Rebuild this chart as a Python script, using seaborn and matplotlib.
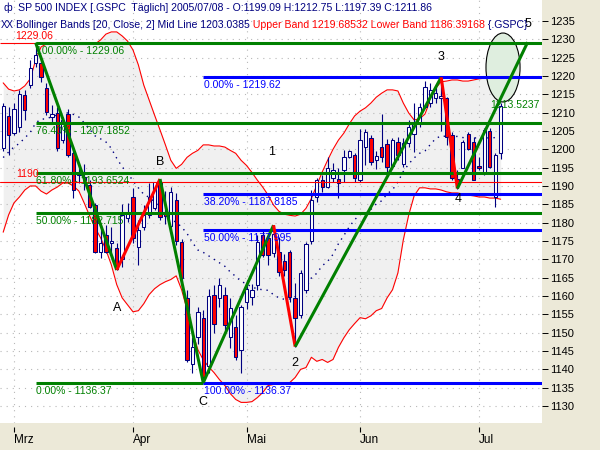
import numpy as np
import matplotlib
matplotlib.use('Agg')
import matplotlib.pyplot as plt
import matplotlib.transforms as mtransforms
from matplotlib.patches import Ellipse
import seaborn as sns

sns.set_style('white')
plt.rcParams['font.family'] = ['Liberation Sans', 'DejaVu Sans']

# ---------------- data ----------------
bar_index = list(range(-2, 91))   # trading-day index, 0 = 1 March 2005
opens = [1200.3, 1209.1, 1204.5, 1206.0, 1214.8, 1217.5, 1223.4, 1223.4, 1216.6, 1208.7,
         1209.8, 1202.5, 1209.5, 1198.9, 1193.0, 1192.5, 1190.3, 1184.8, 1172.0, 1176.6,
         1174.5, 1173.0, 1170.0, 1181.2, 1187.1, 1173.4, 1178.9, 1182.1, 1184.0, 1191.0,
         1183.0, 1179.0, 1186.2, 1174.8, 1159.4, 1141.5, 1148.9, 1153.9, 1141.0, 1160.3,
         1159.4, 1160.3, 1148.9, 1151.6, 1145.3, 1158.5, 1159.8, 1163.0, 1176.6, 1175.7,
         1171.6, 1172.1, 1169.5, 1172.1, 1159.5, 1154.8, 1161.6, 1175.0, 1187.1, 1191.6,
         1189.8, 1192.1, 1191.8, 1194.4, 1198.0, 1198.4, 1191.6, 1200.7, 1203.0, 1197.1,
         1200.5, 1201.4, 1195.4, 1202.1, 1196.1, 1201.6, 1204.3, 1207.1, 1211.6, 1212.5,
         1213.9, 1214.0, 1213.9, 1203.9, 1191.8, 1195.0, 1204.3, 1202.1, 1195.4, 1193.4,
         1205.1, 1187.1, 1199.09]
highs = [1212.5, 1211.6, 1212.7, 1216.2, 1216.2, 1224.3, 1229.06, 1225.0, 1218.0, 1212.1,
         1211.6, 1208.9, 1211.0, 1200.7, 1194.8, 1196.0, 1191.6, 1185.3, 1178.9, 1179.4,
         1178.9, 1174.5, 1185.0, 1185.3, 1189.5, 1180.7, 1184.8, 1190.7, 1191.2, 1191.9,
         1188.5, 1189.8, 1188.0, 1175.5, 1161.6, 1148.9, 1157.0, 1156.2, 1162.0, 1163.0,
         1165.0, 1162.5, 1159.4, 1154.8, 1157.5, 1164.5, 1163.4, 1176.6, 1178.0, 1177.3,
         1179.3, 1176.0, 1171.5, 1172.6, 1163.5, 1167.0, 1174.8, 1188.9, 1192.1, 1193.0,
         1198.0, 1196.2, 1194.8, 1199.8, 1199.8, 1198.9, 1205.5, 1205.5, 1204.0, 1199.5,
         1209.5, 1202.9, 1203.0, 1203.4, 1203.0, 1208.0, 1212.5, 1212.5, 1218.5, 1218.0,
         1217.0, 1219.62, 1214.3, 1204.8, 1194.3, 1202.5, 1204.8, 1203.4, 1198.0, 1205.7,
         1205.7, 1198.9, 1212.75]
lows = [1199.5, 1198.4, 1203.9, 1204.8, 1208.0, 1216.8, 1222.5, 1218.4, 1209.4, 1207.5,
        1199.4, 1201.8, 1197.8, 1186.6, 1190.7, 1189.0, 1183.9, 1171.6, 1170.3, 1171.6,
        1171.6, 1167.1, 1168.0, 1180.3, 1174.5, 1168.4, 1178.0, 1181.2, 1183.5, 1180.8,
        1179.5, 1178.0, 1173.8, 1163.5, 1142.1, 1138.9, 1147.0, 1136.37, 1139.0, 1150.0,
        1157.0, 1150.5, 1145.7, 1142.5, 1138.9, 1156.5, 1157.5, 1161.6, 1170.5, 1168.5,
        1170.5, 1165.5, 1165.5, 1158.5, 1146.2, 1154.0, 1160.7, 1174.3, 1185.7, 1188.4,
        1189.4, 1191.2, 1186.6, 1191.2, 1197.5, 1191.2, 1191.0, 1195.7, 1195.8, 1194.5,
        1196.5, 1193.8, 1194.5, 1197.1, 1195.2, 1200.7, 1199.3, 1206.2, 1211.2, 1211.5,
        1212.5, 1205.0, 1201.2, 1191.6, 1189.3, 1194.8, 1199.8, 1191.6, 1194.3, 1193.0,
        1194.8, 1184.3, 1197.39]
closes = [1211.8, 1203.9, 1210.9, 1215.0, 1210.7, 1222.1, 1225.7, 1219.8, 1210.3, 1209.6,
          1200.3, 1208.0, 1198.4, 1188.9, 1193.6, 1191.5, 1184.4, 1172.1, 1174.5, 1172.1,
          1175.0, 1167.5, 1182.0, 1182.5, 1175.7, 1178.0, 1182.1, 1187.1, 1191.0, 1181.6,
          1181.8, 1188.4, 1175.0, 1164.8, 1142.5, 1146.2, 1155.7, 1137.8, 1160.0, 1152.5,
          1163.0, 1152.1, 1156.6, 1143.5, 1157.1, 1161.8, 1161.6, 1174.8, 1171.2, 1171.2,
          1177.0, 1166.6, 1167.1, 1159.8, 1154.0, 1166.2, 1174.3, 1186.2, 1191.6, 1189.8,
          1194.8, 1194.4, 1190.9, 1198.0, 1199.4, 1192.1, 1202.5, 1204.8, 1196.6, 1198.2,
          1198.0, 1195.2, 1202.5, 1198.4, 1201.6, 1206.2, 1207.1, 1211.6, 1217.1, 1216.2,
          1215.3, 1214.5, 1203.4, 1192.1, 1190.8, 1202.1, 1200.2, 1191.6, 1195.0, 1205.3,
          1195.2, 1198.4, 1211.86]
upper_band = [1218.1, 1216.4, 1215.9, 1216.2, 1217.3, 1219.2, 1224.3, 1227.9, 1228.7, 1229.0,
              1229.0, 1229.0, 1229.0, 1229.0, 1229.0, 1229.0, 1229.0, 1228.7, 1229.8, 1231.4,
              1232.0, 1232.0, 1230.9, 1229.5, 1227.1, 1223.0, 1217.5, 1213.4, 1209.3, 1205.3,
              1201.2, 1197.0, 1194.8, 1195.9, 1197.8, 1198.9, 1199.7, 1201.2, 1201.2, 1200.9,
              1200.9, 1200.6, 1199.7, 1198.9, 1197.0, 1195.6, 1193.7, 1191.6, 1189.7, 1187.5,
              1184.8, 1183.1, 1182.3, 1182.0, 1181.8, 1182.3, 1183.9, 1186.6, 1190.2, 1193.8,
              1197.0, 1200.0, 1202.5, 1204.4, 1206.9, 1209.1, 1210.4, 1211.3, 1212.6, 1214.2,
              1215.3, 1216.2, 1216.2, 1215.9, 1212.6, 1209.9, 1208.0, 1208.3, 1209.6, 1213.4,
              1216.7, 1218.4, 1218.6, 1218.9, 1218.9, 1218.6, 1218.6, 1218.9, 1219.2, 1219.4,
              1219.4, 1219.7, 1219.69]
lower_band = [1177.4, 1182.1, 1185.4, 1187.0, 1188.9, 1190.0, 1190.0, 1188.6, 1187.8, 1188.9,
              1189.7, 1190.8, 1190.8, 1190.0, 1188.6, 1185.3, 1181.8, 1178.6, 1175.9, 1172.6,
              1168.5, 1163.1, 1159.5, 1157.6, 1155.7, 1156.0, 1157.9, 1160.4, 1162.0, 1163.1,
              1163.9, 1164.5, 1165.5, 1161.7, 1156.3, 1150.3, 1145.4, 1142.6, 1140.7, 1139.1,
              1137.2, 1135.6, 1133.4, 1131.8, 1131.0, 1131.0, 1131.2, 1132.3, 1133.7, 1135.6,
              1135.9, 1135.9, 1135.9, 1136.4, 1137.8, 1140.0, 1140.5, 1143.3, 1142.2, 1142.7,
              1141.9, 1142.7, 1146.0, 1148.6, 1150.8, 1152.5, 1154.1, 1153.8, 1154.6, 1156.0,
              1156.6, 1159.5, 1161.7, 1166.3, 1175.3, 1182.1, 1187.3, 1189.5, 1189.5, 1189.2,
              1189.2, 1188.9, 1188.4, 1188.1, 1188.1, 1187.8, 1187.5, 1187.3, 1187.0, 1187.0,
              1186.7, 1186.7, 1186.39]

month_pos = [0, 22, 43, 64, 86]
month_labels = ['Mrz', 'Apr', 'Mai', 'Jun', 'Jul']
price_ticks = list(range(1130, 1236, 5))

fib1_start = 4
fib1_levels = [1229.06, 1207.1852, 1193.6524, 1182.715, 1136.37]
fib1_labels = ['100.00% - 1229.06', '76.40% - 1207.1852', '61.80% - 1193.6524',
               '50.00% - 1182.715', '0.00% - 1136.37']
fib2_start = 35
fib2_levels = [1219.62, 1187.8185, 1177.995, 1136.37]
fib2_labels = ['0.00% - 1219.62', '38.20% - 1187.8185', '50.00% - 1177.995',
               '100.00% - 1136.37']

pivot_idx = [4, 19, 27, 35, 48, 52, 79, 82, 95]
pivot_val = [1229.06, 1167.1, 1191.9, 1136.37, 1179.3, 1146.2, 1219.62, 1189.3, 1229.2]
segment_kind = ['down', 'up_red', 'down', 'up', 'down_red', 'up', 'down_red', 'up']

wave_text = ['A', 'B', 'C', '1', '2', '3', '4', '5']
wave_x = [19, 27, 35, 47.7, 52, 79, 82.1, 95.1]
wave_y = [1156.7, 1196.6, 1131.1, 1199.3, 1141.7, 1225.2, 1186.5, 1234.2]

high_mark = 1229.06
hline_red = 1191.2
target_value = 1213.5237

header_1 = 'SP 500 INDEX [.GSPC  Täglich] 2005/07/08 - O:1199.09 H:1212.75 L:1197.39 C:1211.86'
header_2a = 'Bollinger Bands [20, Close, 2] Mid Line 1203.0385'
header_2b = ' Upper Band 1219.68532 Lower Band 1186.39168'
header_2c = ' {.GSPC}'

# ---------------- figure ----------------
W, H = 600, 450
fig = plt.figure(figsize=(6, 4.5), dpi=100, facecolor='#ece9d8')
ax = fig.add_axes([0, 27 / H, 542 / W, 423 / H])
ax.set_facecolor('white')
ax.set_xlim(-2.59, 97.65)
ax.set_ylim(1125.38, 1240.70)
for s in ax.spines.values():
    s.set_visible(False)

GREEN = '#008000'
BLUE = '#0000ff'
RED = '#ff0000'
NAVY = '#000080'
LW = 2.2  # ~3 px
FS = 7.5

# band shading
ax.fill_between(bar_index, lower_band, upper_band, color='#f0f0f0', lw=0, zorder=0.5)

# grid
for p in price_ticks:
    ax.axhline(p, color='#b8b8b8', lw=0.8, ls=(0, (1, 4.5)), zorder=0.8)
for m in month_pos:
    ax.axvline(m, color='#b8b8b8', lw=0.8, ls=(0, (1, 4.5)), zorder=0.8)

# ellipse highlight
ax.add_patch(Ellipse((90.44, 1222.3), 6.3, 18.8, facecolor='#dfeedf', edgecolor='black',
                     lw=0.8, zorder=0.9))

# bollinger lines
sns.lineplot(x=bar_index, y=upper_band, ax=ax, color=RED, lw=0.8, zorder=1.5)
sns.lineplot(x=bar_index, y=lower_band, ax=ax, color=RED, lw=0.8, zorder=1.5)
mid = [(u + l) / 2 for u, l in zip(upper_band, lower_band)]
sns.lineplot(x=bar_index, y=mid, ax=ax, color=NAVY, lw=1.0, zorder=1.5)
ax.lines[-1].set_linestyle((0, (1, 3.5)))

# candles
o = np.array(opens); c = np.array(closes)
ax.vlines(bar_index, lows, highs, color=NAVY, lw=0.8, zorder=2.5)
bottoms = np.minimum(o, c)
heights = np.maximum(np.abs(c - o), 0.25)
fills = [RED if cc < oo else 'white' for oo, cc in zip(o, c)]
ax.bar(bar_index, heights, bottom=bottoms, width=0.62, color=fills, edgecolor=NAVY,
       linewidth=0.75, zorder=3)

# red marker lines
ax.hlines(high_mark, -2.59, fib1_start, color=RED, lw=0.8, zorder=3.2)
ax.axhline(hline_red, color=RED, lw=0.8, zorder=3.2)

# fibonacci 1 (green)
for i, lev in enumerate(fib1_levels):
    xmax = fib2_start if i == len(fib1_levels) - 1 else 97.65
    ax.hlines(lev, fib1_start, xmax, color=GREEN, lw=LW, zorder=4)
# fibonacci 2 (blue)
for lev in fib2_levels:
    ax.hlines(lev, fib2_start, 97.65, color=BLUE, lw=LW, zorder=4.1)

# zigzag
for k, kind in enumerate(segment_kind):
    col = RED if 'red' in kind else GREEN
    ax.plot(pivot_idx[k:k + 2], pivot_val[k:k + 2], color=col, lw=LW, zorder=4.5,
            solid_capstyle='butt')

# labels on fib lines
for lev, lab in zip(fib1_levels, fib1_labels):
    ax.annotate(lab, (fib1_start, lev), xytext=(0.6, -2.2), textcoords='offset points',
                ha='left', va='top', color=GREEN, fontsize=FS, zorder=6)
for lev, lab in zip(fib2_levels, fib2_labels):
    ax.annotate(lab, (fib2_start, lev), xytext=(0.6, -2.2), textcoords='offset points',
                ha='left', va='top', color=BLUE, fontsize=FS, zorder=6)
ax.annotate('1229.06', (0.2, high_mark), xytext=(0, 1.5), textcoords='offset points',
            ha='left', va='bottom', color=RED, fontsize=FS, zorder=5.5)
ax.annotate('1190', (0.4, hline_red), xytext=(0, 1.5), textcoords='offset points',
            ha='left', va='bottom', color=RED, fontsize=FS, zorder=5.5)
ax.annotate(f'{target_value:.4f}', (88.0, target_value), xytext=(0, 0), textcoords='offset points',
            ha='left', va='top', color=GREEN, fontsize=FS, zorder=6)

for t, xx, yy in zip(wave_text, wave_x, wave_y):
    ax.text(xx, yy, t, ha='center', va='center', fontsize=9, color='black', zorder=6)

# axes ticks
ax.yaxis.tick_right()
ax.set_yticks(price_ticks)
ax.set_yticklabels([str(p) for p in price_ticks])
ax.tick_params(axis='y', which='both', direction='out', length=4, width=0.7, pad=1.5,
               labelsize=8, colors='black', right=True, left=False)
ax.set_xticks(month_pos)
ax.set_xticklabels(month_labels)
ax.tick_params(axis='x', length=0, pad=8, labelsize=8.5, colors='black')
for lab in ax.get_xticklabels():
    lab.set_ha('left')
trans = mtransforms.blended_transform_factory(ax.transData, ax.transAxes)
ax.vlines(month_pos, -9 / 423, -4 / 423, color='black', lw=0.8, transform=trans, clip_on=False)

# header text
renderer = fig.canvas.get_renderer()


def text_line(x0, y0, pieces, size):
    x = x0
    for txt, col in pieces:
        t = fig.text(x / W, 1 - y0 / H, txt, color=col, fontsize=size, ha='left', va='center',
                     zorder=10)
        x += t.get_window_extent(renderer=renderer).width


HFS = 7.6
fig.text(3 / W, 1 - 8 / H, 'ф', color=NAVY, fontsize=HFS, ha='left', va='center')
fig.text(1 / W, 1 - 25 / H, 'XX', color=NAVY, fontsize=HFS - 0.6, ha='left', va='center')
text_line(18, 8, [(header_1, NAVY)], HFS)
text_line(16, 25, [(header_2a, NAVY), (header_2b, RED), (header_2c, NAVY)], HFS)

fig.savefig('out.png', dpi=100, facecolor=fig.get_facecolor())
